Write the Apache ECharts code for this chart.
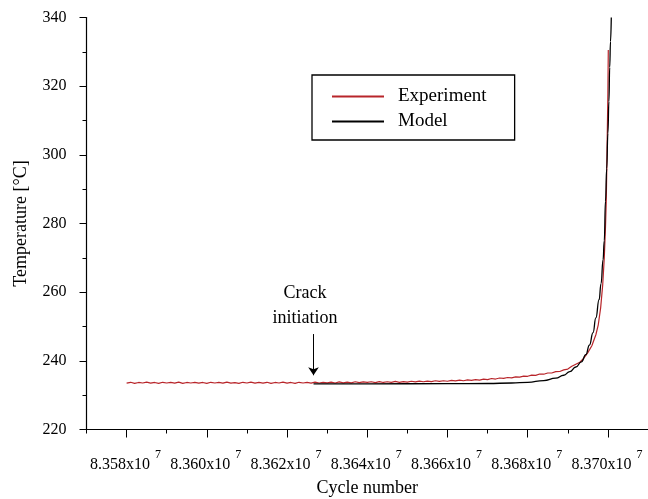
<!DOCTYPE html>
<html>
<head>
<meta charset="utf-8">
<script src="https://cdn.jsdelivr.net/npm/echarts@6/dist/echarts.min.js"></script>
<style>
  html, body { margin: 0; padding: 0; background: #fff; }
  #chart { width: 648px; height: 499px; }
</style>
</head>
<body>
<div id="chart"></div>
<script>
// cycle numbers are in thousands of cycles (83580 -> 8.358x10^7)
const expCycles = [
  83580, 83581, 83582, 83583, 83584, 83585, 83586, 83587, 83588, 83589,
  83590, 83591, 83592, 83593, 83594, 83595, 83596, 83597, 83598, 83599,
  83600, 83601, 83602, 83603, 83604, 83605, 83606, 83607, 83608, 83609,
  83610, 83611, 83612, 83613, 83614, 83615, 83616, 83617, 83618, 83619,
  83620, 83621, 83622, 83623, 83624, 83625, 83626, 83627, 83628, 83629,
  83630, 83631, 83632, 83633, 83634, 83635, 83636, 83637, 83638, 83639,
  83640, 83641, 83642, 83643, 83644, 83645, 83646, 83647, 83648, 83649,
  83650, 83651, 83652, 83653, 83654, 83655, 83656, 83657, 83658, 83659,
  83660, 83661, 83662, 83663, 83664, 83665, 83666, 83667, 83668, 83669,
  83670, 83671, 83672, 83673, 83674, 83675, 83676, 83677, 83678, 83679,
  83680, 83681, 83682, 83683, 83684, 83685, 83686, 83687, 83688, 83689,
  83690, 83691, 83692, 83693, 83694, 83695, 83696, 83697, 83697.6, 83698.2,
  83698.7, 83699.1, 83699.4, 83699.6, 83699.8, 83700, 83700.1
]
const expTemps = [
  233.5, 233.75, 233.45, 233.7, 233.55, 233.8, 233.5, 233.7, 233.45, 233.75,
  233.55, 233.7, 233.5, 233.8, 233.45, 233.7, 233.55, 233.75, 233.5, 233.7,
  233.45, 233.75, 233.55, 233.7, 233.5, 233.8, 233.5, 233.65, 233.45, 233.75,
  233.55, 233.8, 233.5, 233.7, 233.5, 233.75, 233.45, 233.7, 233.55, 233.8,
  233.5, 233.7, 233.45, 233.75, 233.55, 233.7, 233.5, 233.8, 233.55, 233.75,
  233.6, 233.8, 233.55, 233.85, 233.6, 233.8, 233.6, 233.9, 233.65, 233.85,
  233.7, 233.9, 233.65, 233.95, 233.7, 233.9, 233.75, 234.0, 233.75, 233.95,
  233.8, 234.05, 233.85, 234.1, 233.9, 234.1, 233.95, 234.2, 234.0, 234.2,
  234.05, 234.3, 234.15, 234.4, 234.2, 234.45, 234.3, 234.55, 234.4, 234.65,
  234.55, 234.85, 234.7, 235.0, 234.9, 235.15, 235.05, 235.35, 235.25, 235.55,
  235.5, 235.85, 235.75, 236.15, 236.1, 236.45, 236.45, 236.85, 236.9, 237.35,
  237.6, 238.4, 239.0, 239.6, 240.8, 242.4, 244.4, 247.6, 250.5, 255.5,
  262, 270, 279, 287, 302, 318, 330.5
]
const modelCycles = [
  83626.6, 83640, 83660, 83670, 83676, 83680, 83684, 83687, 83689, 83690.5,
  83692, 83693.4, 83694.5, 83695.4, 83696.3, 83697, 83697.8, 83698.3, 83698.8, 83699.1,
  83699.4, 83699.7, 83700, 83700.25, 83700.45, 83700.65, 83700.85
]
const modelTemps = [
  233.3, 233.3, 233.35, 233.4, 233.55, 233.75, 234.25, 234.95, 235.8, 236.85,
  238.2, 239.7, 241.8, 244.6, 248.2, 252.5, 257.8, 262.5, 269.5, 275,
  286.5, 296, 306.3, 315.5, 325.5, 333, 340
]
const majorTicks = [83580, 83600, 83620, 83640, 83660, 83680, 83700]
const crackCycle = 83626.6

const font = 'Liberation Serif'
const expData = expCycles.map((c, i) => [c, expTemps[i]])
const modelData = modelCycles.map((c, i) => [c, modelTemps[i]])

const chart = echarts.init(document.getElementById('chart'))
chart.setOption({
  animation: false,
  backgroundColor: '#fff',
  grid: { left: 86.5, right: 0, top: 17.5, bottom: 69.5, outerBoundsMode: 'none' },
  legend: {
    orient: 'vertical',
    left: 312,
    top: 75,
    padding: [12, 28, 9, 19],
    itemWidth: 52,
    itemHeight: 14,
    itemGap: 6,
    itemStyle: { opacity: 0 },
    borderColor: '#000',
    borderWidth: 1.3,
    textStyle: { fontFamily: font, fontSize: 19, color: '#000', padding: [0, 0, 0, 9] },
    data: ['Experiment', 'Model']
  },
  xAxis: [
    {
      type: 'value',
      min: 83570,
      max: 83710,
      interval: 10,
      name: 'Cycle number',
      nameLocation: 'middle',
      nameGap: 50,
      nameTextStyle: { fontFamily: font, fontSize: 18, color: '#000' },
      axisLine: { lineStyle: { color: '#000', width: 1.2 } },
      axisTick: { length: 4, lineStyle: { color: '#000' } },
      splitLine: { show: false },
      axisLabel: {
        customValues: majorTicks,
        margin: 19,
        color: '#000',
        formatter: function(v) {
          return '{m|' + (v / 10000).toFixed(3) + 'x10}{s|7}'
        },
        rich: {
          m: { fontFamily: font, fontSize: 16, color: '#000' },
          s: { fontFamily: font, fontSize: 12, color: '#000', padding: [0, 2, 20, 5] }
        }
      }
    },
    {
      type: 'value',
      position: 'bottom',
      min: 83570,
      max: 83710,
      interval: 10,
      axisLine: { show: false },
      axisTick: { customValues: majorTicks, length: 8, lineStyle: { color: '#000' } },
      axisLabel: { show: false },
      splitLine: { show: false }
    }
  ],
  yAxis: {
    type: 'value',
    min: 220,
    max: 340,
    interval: 20,
    name: 'Temperature [°C]',
    nameLocation: 'middle',
    nameGap: 56,
    nameTextStyle: { fontFamily: font, fontSize: 18, color: '#000' },
    axisLine: { show: true, lineStyle: { color: '#000', width: 1.2 } },
    axisTick: { show: true, length: 7, lineStyle: { color: '#000' } },
    minorTick: { show: true, splitNumber: 2, length: 4, lineStyle: { color: '#000' } },
    splitLine: { show: false },
    axisLabel: { fontFamily: font, fontSize: 16, color: '#000', margin: 20 }
  },
  series: [
    {
      name: 'Experiment',
      type: 'line',
      data: expData,
      symbol: 'none',
      lineStyle: { color: '#b8252a', width: 1.2 },
      itemStyle: { color: '#b8252a' }
    },
    {
      name: 'Model',
      type: 'line',
      data: modelData,
      symbol: 'none',
      smooth: true,
      smoothMonotone: 'x',
      lineStyle: { color: '#000', width: 1.3 },
      itemStyle: { color: '#000' },
      markLine: {
        silent: true,
        symbol: ['none', 'arrow'],
        symbolSize: 8,
        label: { show: false },
        lineStyle: { color: '#000', width: 1, type: 'solid' },
        data: [[{ coord: [crackCycle, 247.8] }, { coord: [crackCycle, 235.8] }]]
      },
      markPoint: {
        silent: true,
        symbol: 'rect',
        symbolSize: 1,
        itemStyle: { color: 'rgba(0,0,0,0)' },
        label: {
          show: true,
          position: 'inside',
          formatter: 'Crack\ninitiation',
          fontFamily: font,
          fontSize: 18,
          lineHeight: 25,
          color: '#000'
        },
        data: [{ coord: [83624.5, 256.1] }]
      }
    }
  ]
})
</script>
</body>
</html>
